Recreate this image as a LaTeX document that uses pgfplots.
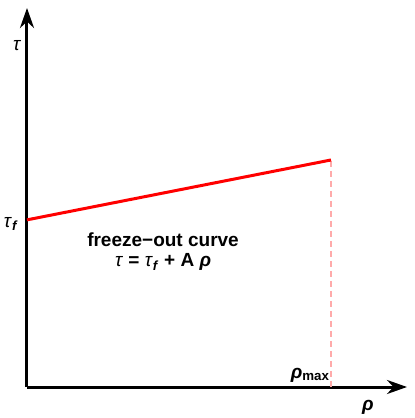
\documentclass[border=0pt]{standalone}
\usepackage{fontspec}
\setmainfont{Liberation Sans}
\usepackage{pgfplots}
\pgfplotsset{compat=1.18}
\usetikzlibrary{arrows.meta}
\definecolor{pinkish}{RGB}{255,170,170}
\begin{document}
\begin{tikzpicture}
\path[use as bounding box] (-27pt,-31pt) rectangle (388pt,387pt);
\begin{axis}[
  scale only axis, width=380pt, height=379pt,
  xmin=0, xmax=10, ymin=0, ymax=10,
  axis lines=left,
  axis line style={line width=3pt, -{Stealth[length=20pt,width=14pt]}},
  xtick=\empty, ytick=\empty,
  clip=false,
  font=\fontsize{19}{22}\selectfont\bfseries,
]
\addplot[color=pinkish, line width=1.2pt, dash pattern=on 6pt off 4pt] coordinates {(8,0) (8,5.99)};
\addplot[red, line width=3pt] coordinates {(0,4.41) (8,5.99)};
\node at (axis cs:-0.26,9.02) {\textit{\mdseries τ}};
\node at (axis cs:-0.42,4.3) {\textit{\mdseries τ}\textsubscript{\textit{f}}};
\node at (axis cs:8.97,-0.55) {\textit{ρ}};
\node at (axis cs:7.45,0.32) {\textit{ρ}\textsubscript{max}};
\node at (axis cs:3.58,3.88) {freeze−out curve};
\node at (axis cs:3.58,3.3) {\textit{\mdseries τ} = \textit{\mdseries τ}\textsubscript{\textit{f}} + A \textit{ρ}};
\end{axis}
\end{tikzpicture}
\end{document}
